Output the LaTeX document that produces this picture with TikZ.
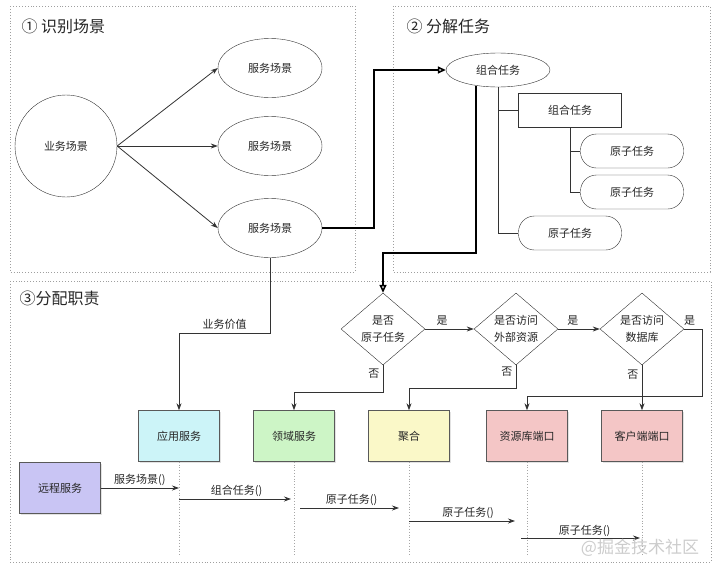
\documentclass[tikz,border=0pt]{standalone}
\usepackage{fontspec}
\setmainfont{Noto Sans CJK SC}
\usetikzlibrary{shapes.geometric,arrows.meta,shadows}

\definecolor{appfill}{HTML}{CCF4F8}
\definecolor{domfill}{HTML}{CDF5C6}
\definecolor{aggfill}{HTML}{FAF8C8}
\definecolor{portfill}{HTML}{F4C6C6}
\definecolor{remfill}{HTML}{C9C5F4}
\definecolor{linegray}{HTML}{333333}

\tikzset{
  frame/.style={draw=gray!75, dotted, line width=0.9pt},
  title/.style={anchor=west, font=\fontsize{16}{19}\selectfont},
  scene/.style={draw=linegray, ellipse, minimum width=104, minimum height=59},
  tasknode/.style={draw=linegray, minimum width=103, minimum height=34},
  atom/.style={tasknode, rounded corners=16},
  decide/.style={draw=linegray, diamond, aspect=1.17, inner sep=0pt,
    minimum width=84, minimum height=72, align=center,
    font=\fontsize{11}{17}\selectfont},
  svc/.style={draw=gray!70!black, minimum width=81, minimum height=51,
    drop shadow={shadow xshift=1.5pt, shadow yshift=-1.5pt, fill=gray!45}},
  flow/.style={draw=linegray, line width=0.8pt, -{Stealth[length=7pt, width=5pt]}},
  heavy/.style={draw=black, line width=1.6pt, -{Triangle[open, length=8pt, width=7pt]}},
  lifeline/.style={draw=gray!70, dotted, line width=0.8pt},
  tree/.style={draw=linegray, line width=0.7pt}
}

\begin{document}
\begin{tikzpicture}[x=1pt, y=-1pt, font=\fontsize{11}{13}\selectfont, text=black!85]
\useasboundingbox (0,0) rectangle (716,568);

% three panels
\draw[frame] (10,6) rectangle (355,272);
\draw[frame] (393,6) rectangle (710,272);
\draw[frame] (10,281) rectangle (711,562);
\node[title] (t1) at (18,26) {① 识别场景};
\node[title] (t2) at (403,26) {② 分解任务};
\node[title] (t3) at (16,298) {③分配职责};

% identify scenes
\node[draw=linegray, circle, minimum size=102] (biz) at (66,146) {业务场景};
\node[scene] (s1) at (270,68) {服务场景};
\node[scene] (s2) at (270,146) {服务场景};
\node[scene] (s3) at (270,228) {服务场景};
\foreach \s in {s1,s2,s3}
  \draw[flow] (biz.east) -- (\s.west);

% decompose tasks
\node[draw=linegray, ellipse, minimum width=104, minimum height=34] (task) at (498,70) {组合任务};
\node[tasknode] (sub) at (570,110) {组合任务};
\node[atom] (a1) at (632,151) {原子任务};
\node[atom] (a2) at (632,192) {原子任务};
\node[atom] (a3) at (570,233) {原子任务};
\draw[tree] (task.south) |- (sub.west);
\draw[tree] (task.south) |- (a3.west);
\draw[tree] (sub.south) |- (a1.west);
\draw[tree] (sub.south) |- (a2.west);
\draw[heavy] (s3.east) -- ++(52,0) |- (task.west);

% assign duties
\node[decide] (d1) at (383,329) {是否\\原子任务};
\node[decide] (d2) at (516,329) {是否访问\\外部资源};
\node[decide] (d3) at (642,329) {是否访问\\数据库};
\draw[heavy] (task.215) |- (d1.north |- 0,253) -- (d1.north);

\node[svc, fill=appfill] (app) at (179,436) {应用服务};
\node[svc, fill=domfill] (dom) at (294,436) {领域服务};
\node[svc, fill=aggfill] (agg) at (409,436) {聚合};
\node[svc, fill=portfill] (repo) at (527,436) {资源库端口};
\node[svc, fill=portfill] (client) at (642,436) {客户端端口};
\node[svc, fill=remfill] (remote) at (60,488) {远程服务};

\draw[flow] (s3.south) |- (app.north |- 0,333) node[pos=0.75, above] {业务价值} -- (app.north);
\draw[flow] (d1.east) -- (d2.west) node[pos=0.35, above] {是};
\draw[flow] (d2.east) -- (d3.west) node[pos=0.35, above] {是};
\draw[flow] (d3.east) -| ++(18,67) node[pos=0.15, above] {是} -| (repo.north);
\draw[flow] (d1.south) -- ++(0,27) node[pos=0.3, left] {否} -| (dom.north);
\draw[flow] (d2.south) -- ++(0,23) node[pos=0.3, left] {否} -| (agg.north);
\draw[flow] (d3.south) -- (client.north) node[pos=0.2, left] {否};

% lifelines and calls
\foreach \b in {app,dom,agg,repo,client}
  \draw[lifeline] (\b.south) -- (\b.south |- 0,555);
\draw[flow] (remote.east) -- (app.south |- 0,488) node[midway, above, inner sep=2pt] {服务场景()};
\draw[flow, shorten >=3pt] (app.south |- 0,499) -- (dom.south |- 0,499) node[midway, above, inner sep=2pt] {组合任务()};
\draw[flow, shorten <=6pt, shorten >=10pt] (dom.south |- 0,508) -- (agg.south |- 0,508) node[midway, above, inner sep=2pt] {原子任务()};
\draw[flow, shorten >=12pt] (agg.south |- 0,521) -- (repo.south |- 0,521) node[midway, above, inner sep=2pt] {原子任务()};
\draw[flow, shorten <=-6pt, shorten >=2pt] (repo.south |- 0,538) -- (client.south |- 0,538) node[midway, above, inner sep=1pt] {原子任务()};

\node[text=gray!40, font=\fontsize{17}{19}\selectfont] (mark) at (640,548) {@掘金技术社区};
\end{tikzpicture}
\end{document}
